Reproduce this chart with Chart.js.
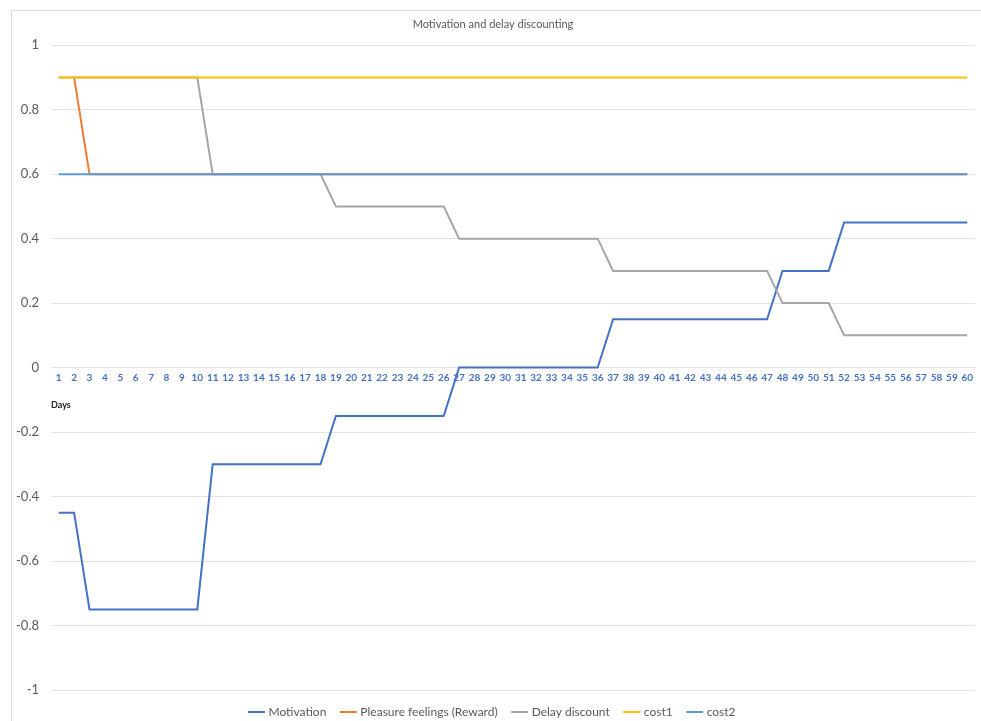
<!DOCTYPE html>
<html>
<head>
<meta charset="utf-8">
<script src="https://cdn.jsdelivr.net/npm/chart.js@4.4.1/dist/chart.umd.min.js"></script>
<style>
  html, body { margin: 0; padding: 0; background: #fff; }
  #wrap { position: relative; width: 981px; height: 721px; }
</style>
</head>
<body>
<div id="wrap"><canvas id="chartCanvas" width="981" height="721"></canvas></div>
<script>
// Days 1..60
const days = [];
for (let d = 1; d <= 60; d++) days.push(String(d));

const motivation = [
  -0.45, -0.45, -0.75, -0.75, -0.75, -0.75, -0.75, -0.75, -0.75, -0.75,
  -0.3, -0.3, -0.3, -0.3, -0.3, -0.3, -0.3, -0.3,
  -0.15, -0.15, -0.15, -0.15, -0.15, -0.15, -0.15, -0.15,
  0, 0, 0, 0, 0, 0, 0, 0, 0, 0,
  0.15, 0.15, 0.15, 0.15, 0.15, 0.15, 0.15, 0.15, 0.15, 0.15, 0.15,
  0.3, 0.3, 0.3, 0.3,
  0.45, 0.45, 0.45, 0.45, 0.45, 0.45, 0.45, 0.45, 0.45
];
const pleasure = [
  null, 0.9, 0.6, 0.6, 0.6, 0.6, 0.6, 0.6, 0.6, 0.6,
  0.6, 0.6, 0.6, 0.6, 0.6, 0.6, 0.6, 0.6, 0.6, 0.6,
  0.6, 0.6, 0.6, 0.6, 0.6, 0.6, 0.6, 0.6, 0.6, 0.6,
  0.6, 0.6, 0.6, 0.6, 0.6, 0.6, 0.6, 0.6, 0.6, 0.6,
  0.6, 0.6, 0.6, 0.6, 0.6, 0.6, 0.6, 0.6, 0.6, 0.6,
  0.6, 0.6, 0.6, 0.6, 0.6, 0.6, 0.6, 0.6, 0.6, 0.6
];
const delayDiscount = [
  0.9, 0.9, 0.9, 0.9, 0.9, 0.9, 0.9, 0.9, 0.9, 0.9,
  0.6, 0.6, 0.6, 0.6, 0.6, 0.6, 0.6, 0.6,
  0.5, 0.5, 0.5, 0.5, 0.5, 0.5, 0.5, 0.5,
  0.4, 0.4, 0.4, 0.4, 0.4, 0.4, 0.4, 0.4, 0.4, 0.4,
  0.3, 0.3, 0.3, 0.3, 0.3, 0.3, 0.3, 0.3, 0.3, 0.3, 0.3,
  0.2, 0.2, 0.2, 0.2,
  0.1, 0.1, 0.1, 0.1, 0.1, 0.1, 0.1, 0.1, 0.1
];
const cost1 = days.map(() => 0.9);
const cost2 = days.map(() => 0.6);

const yTicks = [1, 0.8, 0.6, 0.4, 0.2, 0, -0.2, -0.4, -0.6, -0.8, -1];

const FONT = 'Lato, "Open Sans", sans-serif';
const GREY_TEXT = '#595959';
const GRID = '#e4e4e4';

// light frame around the chart like the Excel chart area
const framePlugin = {
  id: 'frame',
  beforeDraw(chart) {
    const c = chart.ctx;
    c.save();
    c.strokeStyle = '#d9d9d9';
    c.lineWidth = 1;
    c.beginPath();
    c.moveTo(11.5, chart.height);
    c.lineTo(11.5, 10.5);
    c.lineTo(chart.width, 10.5);
    c.stroke();
    c.restore();
  }
};

function line(label, data, color, order) {
  return {
    label: label,
    data: data,
    borderColor: color,
    backgroundColor: color,
    borderWidth: 2,
    pointRadius: 0,
    pointHoverRadius: 0,
    tension: 0,
    fill: false,
    order: order
  };
}

const ctx = document.getElementById('chartCanvas').getContext('2d');
new Chart(ctx, {
  type: 'line',
  data: {
    labels: days,
    datasets: [
      line('Motivation', motivation, '#4472C4', 5),
      line('Pleasure feelings (Reward)', pleasure, '#ED7D31', 4),
      line('Delay discount', delayDiscount, '#A5A5A5', 3),
      line('cost1', cost1, '#FFC000', 2),
      line('cost2', cost2, '#5B9BD5', 1)
    ]
  },
  options: {
    responsive: false,
    animation: false,
    layout: { padding: { left: 11, right: 6, top: 18, bottom: -7 } },
    plugins: {
      title: {
        display: true,
        text: 'Motivation and delay discounting',
        color: GREY_TEXT,
        font: { family: FONT, size: 11, weight: 'normal' },
        padding: { top: 0, bottom: 14 }
      },
      legend: {
        position: 'bottom',
        labels: {
          usePointStyle: true,
          pointStyle: 'line',
          boxWidth: 14,
          color: GREY_TEXT,
          font: { family: FONT, size: 12 },
          padding: 16,
          sort: (a, b) => a.datasetIndex - b.datasetIndex
        }
      },
      tooltip: { enabled: false }
    },
    scales: {
      x: {
        type: 'category',
        position: { y: 0 },
        offset: true,
        grid: { display: false, drawTicks: false },
        border: { display: true, color: GRID },
        ticks: {
          color: '#4472C4',
          font: { family: FONT, size: 10, weight: 'bold' },
          autoSkip: false,
          maxRotation: 0,
          padding: 4
        },
        title: {
          display: true,
          text: 'Days',
          align: 'start',
          color: '#222',
          font: { family: FONT, size: 9, weight: 'bold' },
          padding: { top: 12, bottom: 0 }
        }
      },
      y: {
        min: -1,
        max: 1,
        grid: { color: GRID, drawTicks: false },
        border: { display: false },
        afterFit: s => { s.width = 40; },
        afterBuildTicks: s => { s.ticks = yTicks.map(v => ({ value: v })); },
        ticks: {
          color: GREY_TEXT,
          font: { family: FONT, size: 13 },
          padding: 12,
          callback: v => String(Math.round(v * 10) / 10)
        }
      }
    }
  },
  plugins: [framePlugin]
});
</script>
</body>
</html>
